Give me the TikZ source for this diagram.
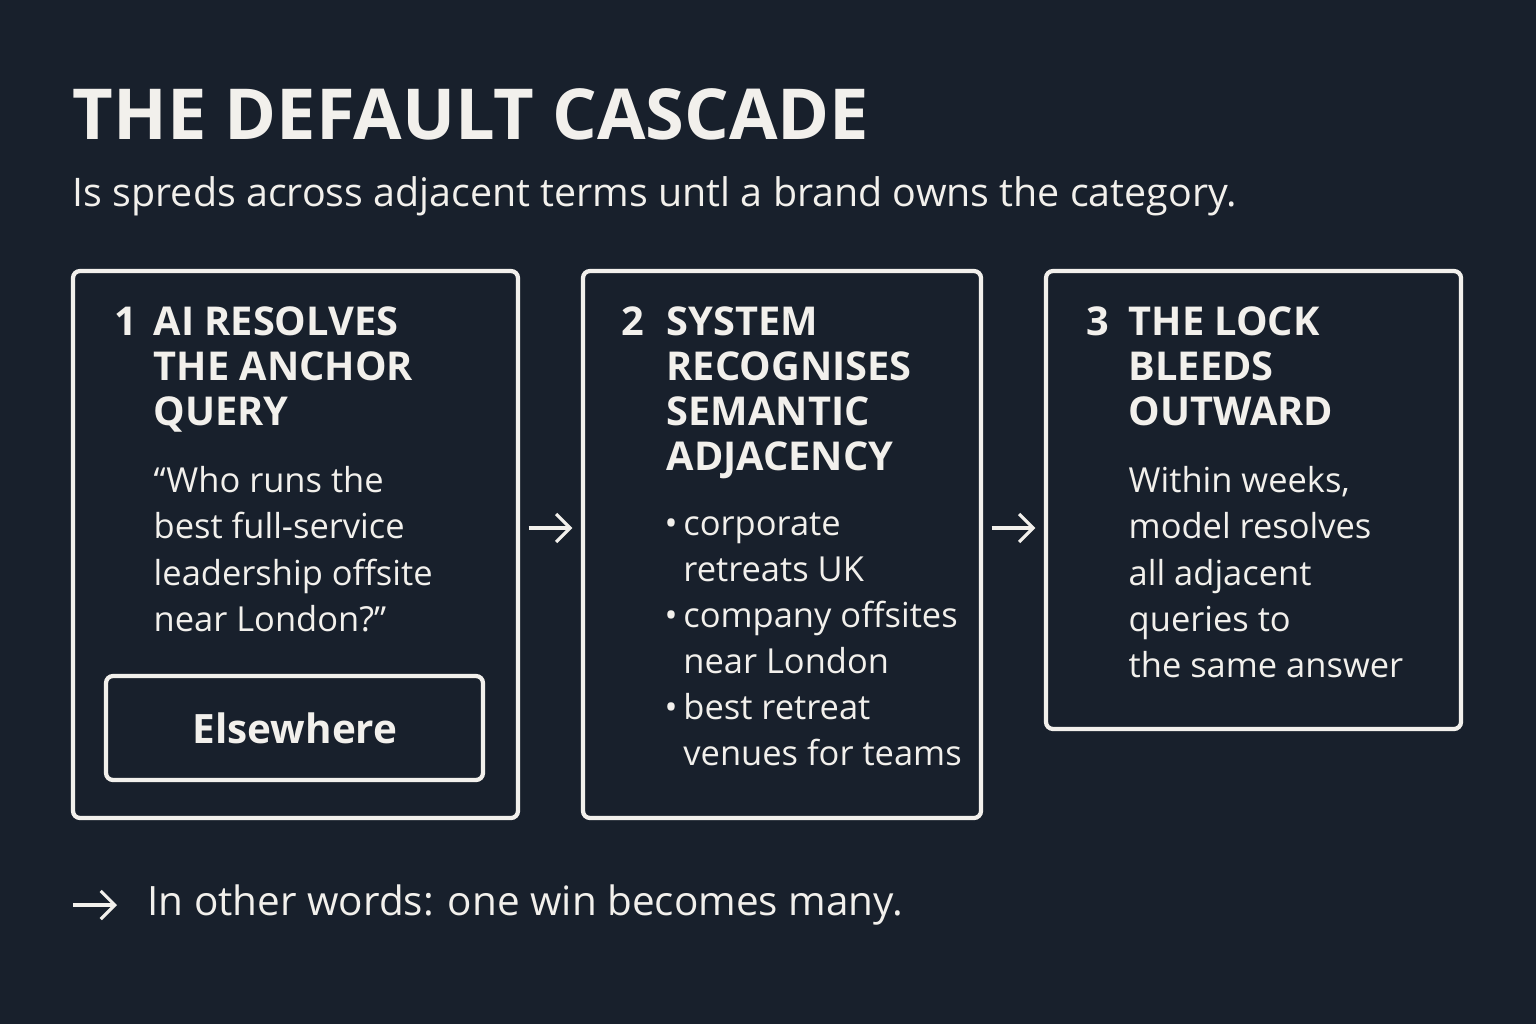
\documentclass[tikz,border=0pt]{standalone}
\usepackage{fontspec}
\setmainfont{Open Sans}
\usetikzlibrary{positioning,arrows.meta}
\definecolor{bgnavy}{HTML}{18202C}
\definecolor{inkwhite}{HTML}{F2F0EC}
\tikzset{
  card/.style={draw=inkwhite,line width=1.2pt,rounded corners=2pt},
  head/.style={anchor=north west,inner sep=0pt,text=inkwhite,font=\fontsize{11.3}{12.8}\selectfont\bfseries,align=left},
  body/.style={anchor=north west,inner sep=0pt,text=inkwhite,font=\fontsize{9.8}{13.1}\selectfont,align=left},
  flow/.style={-{Straight Barb[length=4pt,width=8pt]},draw=inkwhite,line width=0.9pt}
}
\begin{document}
\begin{tikzpicture}[x=0.01cm,y=-0.01cm]
\fill[bgnavy] (0,0) rectangle (1536,1024);
\useasboundingbox (0,0) rectangle (1536,1024);
% title
\node[anchor=west,inner sep=0pt,text=inkwhite,font=\fontsize{20}{24}\selectfont\bfseries] (title) at (72,114) {THE DEFAULT CASCADE};
\node[anchor=west,inner sep=0pt,text=inkwhite,font=\fontsize{11.2}{13}\selectfont] (sub) at (72,196) {Is spreds across adjacent terms untl a brand owns the category.};
% cards
\draw[card] (73,271) rectangle (518,818);
\draw[card] (583,271) rectangle (981,818);
\draw[card] (1046,271) rectangle (1461,729);
\coordinate (c1e) at (518,528);
\coordinate (c2w) at (583,528);
\coordinate (c2e) at (981,528);
\coordinate (c3w) at (1046,528);
% step 1
\node[head] (n1) at (114,306) {1};
\node[head] (h1) at (153,306) {AI RESOLVES\\THE ANCHOR\\QUERY};
\node[body] (b1) at (153,466) {“Who runs the\\best full-service\\leadership offsite\\near London?”};
\draw[card] (106,676) rectangle (483,780);
\node[text=inkwhite,font=\fontsize{11.5}{14}\selectfont\bfseries] (elsetext) at (295,728) {Elsewhere};
% step 2
\node[head] (n2) at (621,306) {2};
\node[head] (h2) at (666,306) {SYSTEM\\RECOGNISES\\SEMANTIC\\ADJACENCY};
\node[body] (b2) at (664,512) {•\,corporate\\\hphantom{•\,}retreats UK\\•\,company offsites\\\hphantom{•\,}near London\\•\,best retreat\\\hphantom{•\,}venues for teams};
% step 3
\node[head] (n3) at (1086,306) {3};
\node[head] (h3) at (1128,306) {THE LOCK\\BLEEDS\\OUTWARD};
\node[body] (b3) at (1128,466) {Within weeks,\\model resolves\\all adjacent\\queries to\\the same answer};
% connectors
\draw[flow] ([xshift=3pt]c1e) -- ([xshift=-3pt]c2w);
\draw[flow] ([xshift=3pt]c2e) -- ([xshift=-3pt]c3w);
% footer
\coordinate (fa) at (73,905);
\coordinate (fb) at (117,905);
\draw[flow] (fa) -- (fb);
\node[anchor=west,inner sep=0pt,text=inkwhite,font=\fontsize{11.5}{14}\selectfont] (foot) at (147,905) {In other words: one win becomes many.};
\end{tikzpicture}
\end{document}
